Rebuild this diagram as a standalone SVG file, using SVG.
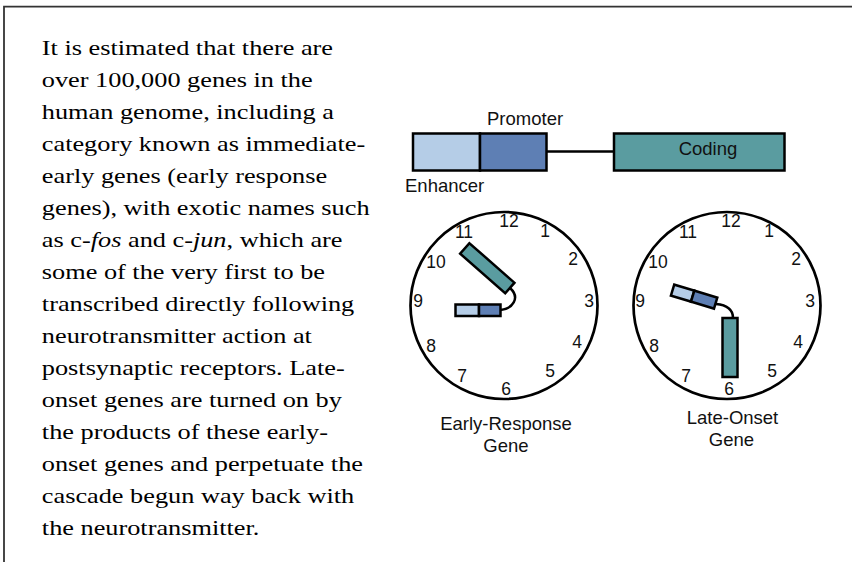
<svg xmlns="http://www.w3.org/2000/svg" width="852" height="562" viewBox="0 0 852 562">
<style>
.body{font-family:"Liberation Serif","Times New Roman",serif;font-size:22px;fill:#000}
.lbl{font-family:"Liberation Sans",Arial,sans-serif;font-size:18.5px;fill:#111}
.num{font-family:"Liberation Sans",Arial,sans-serif;font-size:17.5px;fill:#111;text-anchor:middle}
.box{stroke:#000;stroke-width:2.5}
.enh{fill:#b5cde7}
.pro{fill:#5e7fb4}
.cod{fill:#5a9ca0}
.face{fill:#fff;stroke:#000;stroke-width:2.7}
.wire{fill:none;stroke:#000;stroke-width:2.5}
</style>
<rect width="852" height="562" fill="#fff"/>
<path d="M4,562 V6.7 H852" fill="none" stroke="#333" stroke-width="1.8"/>

<g id="text-block" class="body" transform="scale(1.195,1)">
<text x="35" y="55">It is estimated that there are</text>
<text x="35" y="87">over 100,000 genes in the</text>
<text x="35" y="119">human genome, including a</text>
<text x="35" y="151">category known as immediate-</text>
<text x="35" y="183">early genes (early response</text>
<text x="35" y="215">genes), with exotic names such</text>
<text x="35" y="247">as c-<tspan font-style="italic">fos</tspan> and c-<tspan font-style="italic">jun</tspan>, which are</text>
<text x="35" y="279">some of the very first to be</text>
<text x="35" y="311">transcribed directly following</text>
<text x="35" y="343">neurotransmitter action at</text>
<text x="35" y="375">postsynaptic receptors. Late-</text>
<text x="35" y="407">onset genes are turned on by</text>
<text x="35" y="439">the products of these early-</text>
<text x="35" y="471">onset genes and perpetuate the</text>
<text x="35" y="503">cascade begun way back with</text>
<text x="35" y="535">the neurotransmitter.</text>
</g>

<g id="gene">
<rect class="box enh" x="413" y="133.5" width="67" height="37"/>
<rect class="box pro" x="480" y="133.5" width="66.5" height="37"/>
<text class="lbl" x="487" y="125">Promoter</text>
<text class="lbl" x="405" y="192">Enhancer</text>
</g>
<g id="coding">
<rect class="box cod" x="614" y="133.5" width="170.5" height="37"/>
<text class="lbl" x="708" y="155" text-anchor="middle">Coding</text>
</g>

<g id="clock-early">
<circle class="face" cx="504" cy="305.5" r="93.5"/>
<text class="num" x="509" y="227">12</text>
<text class="num" x="545" y="237">1</text>
<text class="num" x="573" y="265">2</text>
<text class="num" x="589" y="307">3</text>
<text class="num" x="577" y="348">4</text>
<text class="num" x="550" y="376.5">5</text>
<text class="num" x="506" y="395">6</text>
<text class="num" x="462" y="382">7</text>
<text class="num" x="431" y="352">8</text>
<text class="num" x="418" y="307">9</text>
<text class="num" x="436" y="268">10</text>
<text class="num" x="464" y="238">11</text>
<rect class="box cod" x="-30" y="-7" width="60" height="14" transform="translate(487.3,268.2) rotate(41.3)"/>
<rect class="box enh" x="455.5" y="304.5" width="23.5" height="11.5"/>
<rect class="box pro" x="479" y="304.5" width="21.5" height="11.5"/>
<text class="lbl" x="506" y="430" text-anchor="middle">Early-Response</text>
<text class="lbl" x="506" y="451.5" text-anchor="middle">Gene</text>
</g>

<g id="clock-late">
<circle class="face" cx="727" cy="305.5" r="93.5"/>
<text class="num" x="731" y="227">12</text>
<text class="num" x="769" y="237">1</text>
<text class="num" x="796" y="265">2</text>
<text class="num" x="810" y="307">3</text>
<text class="num" x="798" y="348">4</text>
<text class="num" x="772" y="377">5</text>
<text class="num" x="729" y="395">6</text>
<text class="num" x="686" y="382">7</text>
<text class="num" x="654" y="352">8</text>
<text class="num" x="640" y="307">9</text>
<text class="num" x="658" y="268">10</text>
<text class="num" x="688" y="238">11</text>
<rect class="box cod" x="722.5" y="318" width="15" height="59"/>
<g transform="translate(694.1,296.6) rotate(16.8)">
<rect class="box enh" x="-22.5" y="-5.75" width="21" height="11.5"/>
<rect class="box pro" x="-1.5" y="-5.75" width="24" height="11.5"/>
</g>
<text class="lbl" x="732.5" y="424" text-anchor="middle">Late-Onset</text>
<text class="lbl" x="731.5" y="445.5" text-anchor="middle">Gene</text>
</g>

<g id="connectors">
<line x1="546.5" y1="151.5" x2="614" y2="151.5" class="wire"/>
<path class="wire" d="M500.5,310 C512,309 521,298 510,288"/>
<path class="wire" d="M716,304 C727,305 733,309 733,318"/>
</g>
</svg>
